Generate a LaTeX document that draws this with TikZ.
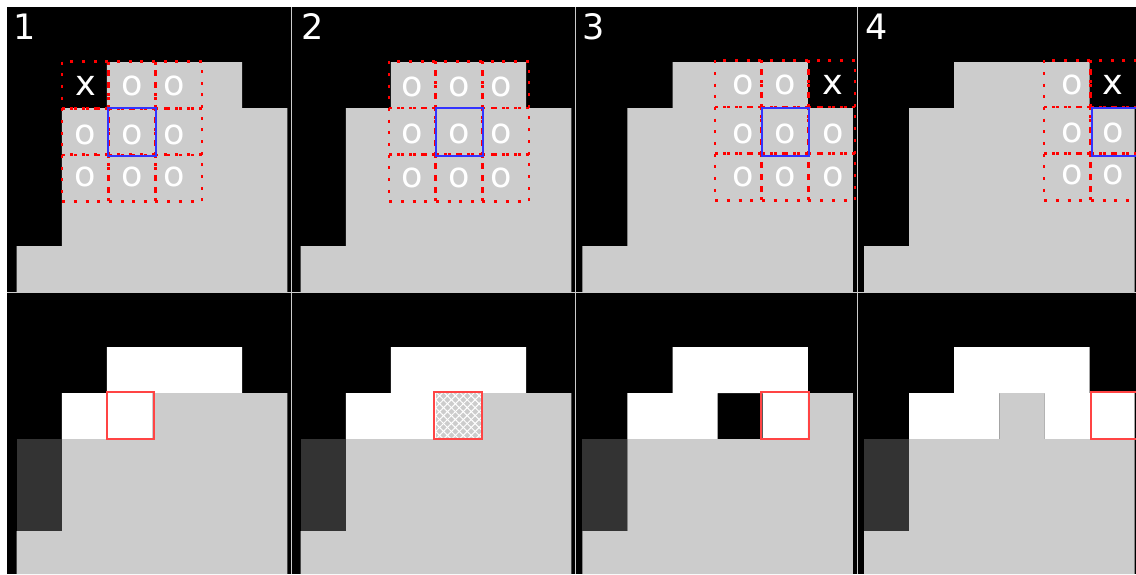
\documentclass[tikz,border=0pt]{standalone}
\usepackage{fontspec}
\setmainfont{DejaVu Sans}
\usetikzlibrary{patterns.meta}
\definecolor{cellgray}{HTML}{CCCCCC}
\definecolor{darkcell}{HTML}{333333}
\definecolor{curblue}{HTML}{3333FF}
\definecolor{hitred}{HTML}{FF4444}
\begin{document}
\begin{tikzpicture}[x=0.5pt, y=-0.5pt,
  every node/.style={font=\fontsize{17.5pt}{20pt}\selectfont, text=white, inner sep=0pt},
  nbrcell/.style={draw=red, line width=1.4pt, dash pattern=on 1.5pt off 4.35pt},
  curcell/.style={draw=curblue, line width=1pt},
  hitcell/.style={draw=hitred, line width=1pt},
  sepline/.style={draw=cellgray, line width=0.5pt}]
\useasboundingbox (0,0) rectangle (1136,574);
\fill[white] (0,0) rectangle (1136,574);
\fill[black] (7,7) rectangle (1136,574);

% top row
\fill[cellgray] (106.9,62) -- (242.2,62) -- (242.2,108) -- (287.3,108) -- (287.3,292) -- (16.7,292) -- (16.7,246) -- (61.8,246) -- (61.8,108) -- (106.9,108) -- cycle;
\fill[cellgray] (390.9,62) -- (526.2,62) -- (526.2,108) -- (571.3,108) -- (571.3,292) -- (300.7,292) -- (300.7,246) -- (345.8,246) -- (345.8,108) -- (390.9,108) -- cycle;
\fill[cellgray] (672.5,62) -- (807.8,62) -- (807.8,108) -- (852.9,108) -- (852.9,292) -- (582.3,292) -- (582.3,246) -- (627.4,246) -- (627.4,108) -- (672.5,108) -- cycle;
\fill[cellgray] (954.2,62) -- (1089.5,62) -- (1089.5,108) -- (1134.6,108) -- (1134.6,292) -- (864,292) -- (864,246) -- (909.1,246) -- (909.1,108) -- (954.2,108) -- cycle;

\draw[nbrcell] (62,61.5) rectangle +(46.7,46.7) (108.7,61.5) rectangle +(46.7,46.7) (155.3,61.5) rectangle +(46.7,46.7)
  (62,108.2) rectangle +(46.7,46.7) (108.7,108.2) rectangle +(46.7,46.7) (155.3,108.2) rectangle +(46.7,46.7)
  (62,154.8) rectangle +(46.7,46.7) (108.7,154.8) rectangle +(46.7,46.7) (155.3,154.8) rectangle +(46.7,46.7);
\draw[nbrcell] (389,61.3) rectangle +(46.7,46.7) (435.7,61.3) rectangle +(46.7,46.7) (482.3,61.3) rectangle +(46.7,46.7)
  (389,108) rectangle +(46.7,46.7) (435.7,108) rectangle +(46.7,46.7) (482.3,108) rectangle +(46.7,46.7)
  (389,154.7) rectangle +(46.7,46.7) (435.7,154.7) rectangle +(46.7,46.7) (482.3,154.7) rectangle +(46.7,46.7);
\draw[nbrcell] (715,60.3) rectangle +(46.7,46.7) (761.7,60.3) rectangle +(46.7,46.7) (808.3,60.3) rectangle +(46.7,46.7)
  (715,107) rectangle +(46.7,46.7) (761.7,107) rectangle +(46.7,46.7) (808.3,107) rectangle +(46.7,46.7)
  (715,153.7) rectangle +(46.7,46.7) (761.7,153.7) rectangle +(46.7,46.7) (808.3,153.7) rectangle +(46.7,46.7);
\draw[nbrcell] (1044,60.3) rectangle +(46.7,46.7) (1090.7,60.3) rectangle +(46.7,46.7)
  (1044,107) rectangle +(46.7,46.7) (1090.7,107) rectangle +(46.7,46.7)
  (1044,153.7) rectangle +(46.7,46.7) (1090.7,153.7) rectangle +(46.7,46.7);

\draw[curcell] (108.3,108.3) rectangle (155.7,155.7);
\draw[curcell] (435.7,108.3) rectangle (483.3,155.7);
\draw[curcell] (761.7,108.3) rectangle (809.3,155.7);
\draw[curcell] (1091.7,108.3) rectangle (1139,155.7);

\node (num1) at (25,26.7) {1};
\node (num2) at (312.2,26.7) {2};
\node (num3) at (593.3,26.7) {3};
\node (num4) at (876.3,26.7) {4};

\node (a00) at (85.5,86) {x};
\node (a01) at (132.3,86) {o};
\node (a02) at (174,86) {o};
\node (a10) at (85.5,135) {o};
\node (a11) at (132.3,135) {o};
\node (a12) at (174,135) {o};
\node (a20) at (85.5,176.7) {o};
\node (a21) at (132.3,176.7) {o};
\node (a22) at (174,176.7) {o};

\node (b00) at (412.3,86.7) {o};
\node (b01) at (459.3,86.7) {o};
\node (b02) at (501.7,86.7) {o};
\node (b10) at (412.3,134.3) {o};
\node (b11) at (459.3,134.3) {o};
\node (b12) at (501.7,134.3) {o};
\node (b20) at (412.3,177.7) {o};
\node (b21) at (459.3,177.7) {o};
\node (b22) at (501.7,177.7) {o};

\node (c00) at (743.3,85) {o};
\node (c01) at (785,85) {o};
\node (c02) at (832.7,85) {x};
\node (c10) at (743.3,134.3) {o};
\node (c11) at (785,134.3) {o};
\node (c12) at (832.7,134.3) {o};
\node (c20) at (743.3,176.7) {o};
\node (c21) at (785,176.7) {o};
\node (c22) at (832.7,176.7) {o};

\node (d00) at (1071.7,85) {o};
\node (d01) at (1113.3,85) {x};
\node (d10) at (1071.7,133.3) {o};
\node (d11) at (1113.3,133.3) {o};
\node (d20) at (1071.7,175) {o};
\node (d21) at (1113.3,175) {o};

% bottom row
\fill[white] (106.9,347) rectangle (242.2,393) (61.8,393) rectangle (152,439);
\fill[cellgray] (152,393) -- (287.3,393) -- (287.3,574) -- (16.7,574) -- (16.7,531) -- (61.8,531) -- (61.8,439) -- (152,439) -- cycle;
\fill[darkcell] (16.7,439) rectangle (61.8,531);
\draw[hitcell] (106.7,391.7) rectangle (154.3,439.3);

\fill[white] (390.9,347) rectangle (526.2,393) (345.8,393) rectangle (436,439);
\fill[cellgray] (436,393) -- (571.3,393) -- (571.3,574) -- (300.7,574) -- (300.7,531) -- (345.8,531) -- (345.8,439) -- (436,439) -- cycle;
\fill[pattern={Lines[angle=45,distance=2.8pt,line width=0.5pt]}, pattern color=white] (436,393) rectangle (481.1,439);
\fill[pattern={Lines[angle=-45,distance=2.8pt,line width=0.5pt]}, pattern color=white] (436,393) rectangle (481.1,439);
\fill[darkcell] (300.7,439) rectangle (345.8,531);
\draw[hitcell] (434.2,391.7) rectangle (482,439.3);

\fill[white] (672.5,347) rectangle (807.8,393) (627.4,393) rectangle (717.6,439) (762.7,393) rectangle (807.8,439);
\fill[cellgray] (807.8,393) -- (852.9,393) -- (852.9,574) -- (582.3,574) -- (582.3,531) -- (627.4,531) -- (627.4,439) -- (807.8,439) -- cycle;
\fill[darkcell] (582.3,439) rectangle (627.4,531);
\draw[hitcell] (761.4,391.7) rectangle (809.3,439.3);

\fill[white] (954.2,347) rectangle (1089.5,393) (909.1,393) rectangle (999.3,439) (1044.4,393) rectangle (1134.6,439);
\fill[cellgray] (999.3,393) -- (1044.4,393) -- (1044.4,439) -- (1134.6,439) -- (1134.6,574) -- (864,574) -- (864,531) -- (909.1,531) -- (909.1,439) -- (999.3,439) -- cycle;
\fill[darkcell] (864,439) rectangle (909.1,531);
\draw[hitcell] (1091,391.7) rectangle (1138.6,439.3);

\draw[sepline] (291,7) -- (291,574) (575.5,7) -- (575.5,574) (857,7) -- (857,574) (7,292) -- (1136,292);
\end{tikzpicture}
\end{document}
